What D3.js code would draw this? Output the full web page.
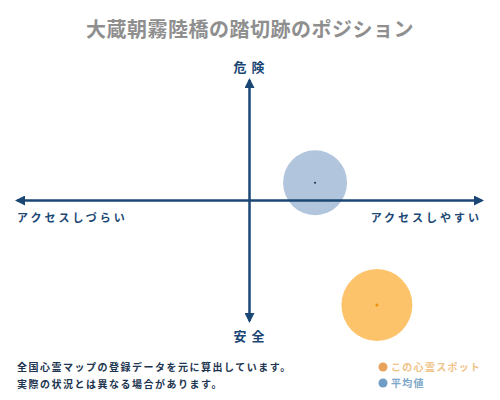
<!DOCTYPE html>
<html>
<head>
<meta charset="utf-8">
<script src="https://cdn.jsdelivr.net/npm/d3@7"></script>
<style>
  body { margin: 0; background: #fff; }
  svg { display: block; font-family: "Noto Sans CJK JP", sans-serif; }
</style>
</head>
<body>
<svg id="chart" width="500" height="400"></svg>
<script>
const title = '大蔵朝霧陸橋の踏切跡のポジション';
const axisLabels = { top: '危険', bottom: '安全', left: 'アクセスしづらい', right: 'アクセスしやすい' };
const seriesNames = ['この心霊スポット', '平均値'];
const accessValues = [77.4, 64.1];   // x: アクセス
const dangerValues = [6.6, 57.4];    // y: 危険度
const notes = ['全国心霊マップの登録データを元に算出しています。', '実際の状況とは異なる場合があります。'];

const colors = ['#fcc062', '#a3bbd6'];
const dotColors = ['#f0900a', '#1a2a40'];
const legendColors = ['#e8a25a', '#6e9cc4'];
const legendTextColors = ['#efc387', '#7ea6c8'];
const radii = [35.5, 32];
const navy = '#1b4775';

const svg = d3.select('#chart');

const x = d3.scaleLinear().domain([0, 100]).range([17, 482]);
const y = d3.scaleLinear().domain([0, 100]).range([321, 80]);

svg.append('text')
  .attr('x', 250).attr('y', 37)
  .attr('text-anchor', 'middle')
  .attr('font-size', 20)
  .attr('font-weight', 'bold')
  .attr('fill', '#8f8f8f')
  .attr('letter-spacing', 0.5)
  .text(title);

// bubbles (drawn under the axes)
const order = [1, 0];
svg.selectAll('.bubble')
  .data(order)
  .enter()
  .append('ellipse')
  .attr('class', 'bubble')
  .attr('cx', (i) => x(accessValues[i]))
  .attr('cy', (i) => y(dangerValues[i]))
  .attr('rx', (i) => radii[i])
  .attr('ry', (i) => radii[i] + 0.5)
  .attr('fill', (i) => colors[i])
  .attr('fill-opacity', (i) => (i === 1 ? 0.85 : 0.95));

// axes
const defs = svg.append('defs');
defs.append('marker')
  .attr('id', 'arrow')
  .attr('viewBox', '0 0 10 10')
  .attr('refX', 8).attr('refY', 5)
  .attr('markerWidth', 4).attr('markerHeight', 4)
  .attr('orient', 'auto-start-reverse')
  .append('path')
  .attr('d', 'M0,0 L10,5 L0,10 z')
  .attr('fill', navy);

svg.append('line')
  .attr('x1', x(0)).attr('x2', x(100))
  .attr('y1', y(50)).attr('y2', y(50))
  .attr('stroke', navy).attr('stroke-width', 2.5)
  .attr('marker-start', 'url(#arrow)')
  .attr('marker-end', 'url(#arrow)');

svg.append('line')
  .attr('x1', x(50)).attr('x2', x(50))
  .attr('y1', y(0)).attr('y2', y(100))
  .attr('stroke', navy).attr('stroke-width', 2.5)
  .attr('marker-start', 'url(#arrow)')
  .attr('marker-end', 'url(#arrow)');

// center dots
svg.selectAll('.center')
  .data(order)
  .enter()
  .append('circle')
  .attr('cx', (i) => x(accessValues[i]))
  .attr('cy', (i) => y(dangerValues[i]))
  .attr('r', (i) => (i === 0 ? 1.5 : 1))
  .attr('fill', (i) => dotColors[i]);

// axis labels
const labelStyle = (sel) => sel.attr('font-size', 13).attr('font-weight', 'bold').attr('fill', navy);
svg.append('text').call(labelStyle)
  .attr('x', x(50) + 2).attr('y', 72).attr('text-anchor', 'middle').attr('letter-spacing', 5)
  .text(axisLabels.top);
svg.append('text').call(labelStyle)
  .attr('x', x(50) + 2).attr('y', 341).attr('text-anchor', 'middle').attr('letter-spacing', 5)
  .text(axisLabels.bottom);
svg.append('text').call(labelStyle)
  .attr('x', x(0)).attr('y', 222).attr('font-size', 11).attr('letter-spacing', 3)
  .text(axisLabels.left);
svg.append('text').call(labelStyle)
  .attr('x', x(100)).attr('y', 222).attr('font-size', 11).attr('letter-spacing', 3)
  .attr('text-anchor', 'end')
  .text(axisLabels.right);

// notes
svg.selectAll('.note')
  .data(notes)
  .enter()
  .append('text')
  .attr('x', 17)
  .attr('y', (d, i) => 371 + i * 17)
  .attr('font-size', 10)
  .attr('font-weight', 'bold')
  .attr('letter-spacing', 1.5)
  .attr('fill', '#1d3550')
  .text((d) => d);

// legend
const legend = svg.selectAll('.legend')
  .data(seriesNames)
  .enter()
  .append('g')
  .attr('transform', (d, i) => `translate(383, ${367 + i * 16})`);
legend.append('circle')
  .attr('r', 4.5)
  .attr('fill', (d, i) => legendColors[i]);
legend.append('text')
  .attr('x', 8).attr('y', 4)
  .attr('font-size', 10)
  .attr('font-weight', 'bold')
  .attr('letter-spacing', 1.3)
  .attr('fill', (d, i) => legendTextColors[i])
  .text((d) => d);
</script>
</body>
</html>
